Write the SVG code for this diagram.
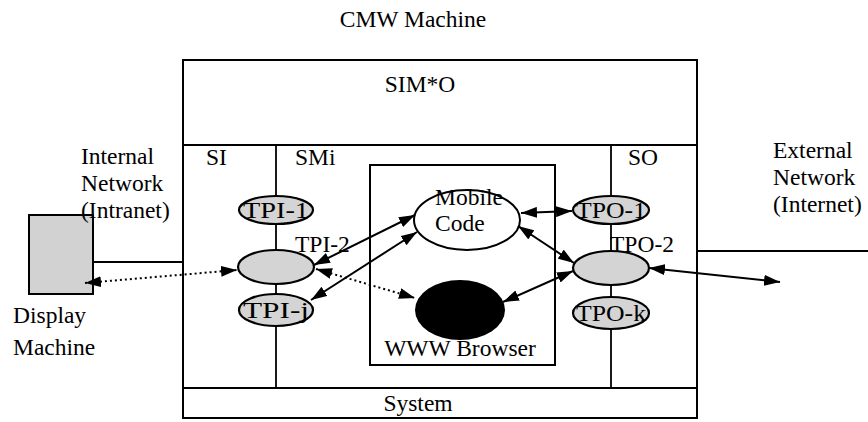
<svg xmlns="http://www.w3.org/2000/svg" width="868" height="422" viewBox="0 0 868 422">
<defs>
<style>
text{font-family:"Liberation Serif","Times New Roman",serif;font-size:23.5px;fill:#000}
.box{fill:none;stroke:#000;stroke-width:2}
.ln{stroke:#000;stroke-width:1.8;fill:none}
.tp{fill:#d4d4d4;stroke:#000;stroke-width:2.2}
.lab{font-size:24px;text-anchor:middle}
.arr{stroke:#000;stroke-width:2;fill:none;marker-start:url(#ah);marker-end:url(#ah)}
.dot{stroke:#000;stroke-width:2;fill:none;stroke-dasharray:2 3;marker-start:url(#ah);marker-end:url(#ah)}
</style>
<marker id="ah" viewBox="0 0 16 11" refX="16" refY="5.5" markerWidth="16" markerHeight="11" markerUnits="userSpaceOnUse" orient="auto-start-reverse">
<path d="M0,0 L16,5.5 L0,11 Z" fill="#000"/>
</marker>
</defs>
<rect width="868" height="422" fill="#fff"/>
<text x="413" y="27" text-anchor="middle" font-size="20">CMW Machine</text>
<g id="cmw">
<rect class="box" x="183" y="60" width="514" height="358"/>
<line class="ln" x1="183" y1="145" x2="697" y2="145"/>
<line class="ln" x1="183" y1="388" x2="697" y2="388"/>
<text x="420" y="92" text-anchor="middle" font-size="22">SIM*O</text>
<text x="418" y="411" text-anchor="middle" font-size="22">System</text>
<line class="ln" x1="276" y1="145" x2="276" y2="388"/>
<line class="ln" x1="611" y1="145" x2="611" y2="388"/>
<text x="206" y="165">SI</text>
<text x="295" y="165">SMi</text>
<text x="628" y="165">SO</text>
</g>
<g id="display">
<rect x="29" y="215" width="64" height="79" fill="#d2d2d2" stroke="#000" stroke-width="2"/>
<text x="13" y="323">Display</text>
<text x="13" y="355">Machine</text>
</g>
<g id="internal">
<line class="ln" x1="93" y1="262" x2="183" y2="262"/>
<text x="81" y="164">Internal</text>
<text x="81" y="191">Network</text>
<text x="81" y="218">(Intranet)</text>
</g>
<g id="external">
<line class="ln" x1="697" y1="251" x2="868" y2="251"/>
<text x="773" y="158">External</text>
<text x="773" y="185">Network</text>
<text x="773" y="212">(Internet)</text>
</g>
<g id="smi">
<rect class="box" x="370" y="165" width="185" height="200"/>
<text x="460" y="356" text-anchor="middle">WWW Browser</text>
</g>
<g id="mobile">
<ellipse cx="467" cy="220" rx="53" ry="30" fill="#fff" stroke="#000" stroke-width="2"/>
<text x="435" y="205">Mobile</text>
<text x="435" y="231">Code</text>
</g>
<g id="browser">
<ellipse cx="460" cy="310" rx="45" ry="30" fill="#000"/>
</g>
<g id="tpi1"><ellipse class="tp" cx="276" cy="210" rx="37" ry="14"/><text class="lab" x="276" y="218" textLength="66" lengthAdjust="spacingAndGlyphs">TPI-1</text></g>
<g id="tpi2"><ellipse class="tp" cx="276" cy="267" rx="38" ry="17"/><text x="295" y="252">TPI-2</text></g>
<g id="tpij"><ellipse class="tp" cx="276" cy="310" rx="37" ry="16"/><text class="lab" x="276" y="318" textLength="66" lengthAdjust="spacingAndGlyphs">TPI-j</text></g>
<g id="tpo1"><ellipse class="tp" cx="611" cy="210" rx="38" ry="14"/><text class="lab" x="611" y="218" textLength="70" lengthAdjust="spacingAndGlyphs">TPO-1</text></g>
<g id="tpo2"><ellipse class="tp" cx="611" cy="268" rx="38" ry="17"/><text x="610" y="252">TPO-2</text></g>
<g id="tpok"><ellipse class="tp" cx="611" cy="313" rx="38" ry="16"/><text class="lab" x="611" y="321" textLength="70" lengthAdjust="spacingAndGlyphs">TPO-k</text></g>
<g id="connectors">
<line class="dot" x1="85" y1="283" x2="237" y2="270"/>
<line class="arr" x1="314" y1="265" x2="415" y2="215"/>
<line class="arr" x1="311" y1="300" x2="417" y2="232"/>
<line class="dot" x1="316" y1="269" x2="415" y2="298"/>
<line class="arr" x1="521" y1="213" x2="572" y2="211"/>
<line class="arr" x1="518" y1="226" x2="574" y2="263"/>
<line class="arr" x1="503" y1="302" x2="573" y2="271"/>
<line class="arr" x1="649" y1="268" x2="780" y2="282"/>
</g>
</svg>
